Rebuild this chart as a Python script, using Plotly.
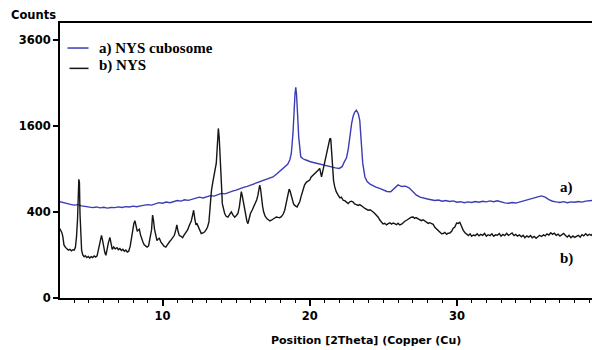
import numpy as np
import plotly.graph_objects as go

# Powder XRD scans (Cu K-alpha), intensity in counts vs. 2-theta (degrees)

# a) NYS cubosome
TWO_THETA_A = [
    3.0, 3.25, 3.5, 3.75, 4.0, 4.25, 4.5, 4.75, 5.0, 5.25,
    5.5, 5.75, 6.0, 6.25, 6.5, 6.75, 7.0, 7.25, 7.5, 7.75,
    8.0, 8.25, 8.5, 8.75, 9.0, 9.25, 9.5, 9.75, 10.0, 10.25,
    10.5, 10.75, 11.0, 11.25, 11.5, 11.75, 12.0, 12.25, 12.5, 12.75,
    13.0, 13.25, 13.5, 13.75, 14.0, 14.25, 14.5, 14.75, 15.0, 15.25,
    15.5, 15.75, 16.0, 16.25, 16.5, 16.75, 17.0, 17.25, 17.5, 17.75,
    18.0, 18.25, 18.5, 18.65, 18.75, 18.86, 18.93, 19.0, 19.05, 19.1,
    19.16, 19.25, 19.39, 19.54, 19.7, 19.85, 20.0, 20.25, 20.5, 20.75,
    21.0, 21.25, 21.5, 21.75, 22.0, 22.2, 22.35, 22.5, 22.62, 22.72,
    22.85, 22.95, 23.05, 23.17, 23.3, 23.4, 23.5, 23.6, 23.75, 23.9,
    24.1, 24.3, 24.5, 24.75, 25.0, 25.25, 25.5, 25.75, 26.0, 26.25,
    26.5, 26.75, 27.0, 27.25, 27.5, 27.75, 28.0, 28.25, 28.5, 28.75,
    29.0, 29.25, 29.5, 29.75, 30.0, 30.25, 30.5, 30.75, 31.0, 31.25,
    31.5, 31.75, 32.0, 32.25, 32.5, 32.75, 33.0, 33.25, 33.5, 33.75,
    34.0, 34.25, 34.5, 34.75, 35.0, 35.25, 35.5, 35.75, 36.0, 36.25,
    36.5, 36.75, 37.0, 37.25, 37.5, 37.75, 38.0, 38.25, 38.5, 38.75,
    39.0, 39.25,
]
COUNTS_A = [
    500, 488, 480, 472, 465, 470, 458, 452, 446, 440,
    447, 438, 444, 436, 442, 440, 448, 441, 450, 446,
    455, 449, 458, 462, 470, 465, 478, 490, 484, 496,
    490, 505, 512, 506, 520, 514, 528, 536, 548, 540,
    556, 565, 560, 578, 590, 585, 605, 616, 628, 648,
    660, 672, 688, 700, 722, 740, 758, 776, 790, 830,
    870, 915, 965, 1030, 1130, 1460, 1900, 2250, 2390, 2250,
    1900, 1400, 1075, 1045, 1030, 1015, 1005, 990, 975, 960,
    945, 932, 920, 912, 905, 930, 1000, 1060, 1200, 1420,
    1650, 1780, 1860, 1900, 1830, 1700, 1250, 980, 790, 730,
    700, 680, 662, 648, 630, 612, 608, 650, 690, 670,
    675, 655, 610, 570, 548, 535, 528, 520, 512, 518,
    505, 512, 502, 508, 495, 500, 490, 498, 492, 502,
    494, 505, 498, 508, 500, 510, 496, 488, 484, 492,
    486, 498, 506, 515, 528, 540, 552, 562, 548, 522,
    505, 498, 492, 500, 490, 498, 494, 502, 496, 506,
    510, 514,
]

# b) NYS
TWO_THETA_B = [
    3.0, 3.08, 3.15, 3.22, 3.3, 3.4, 3.5, 3.6, 3.7, 3.8,
    3.9, 4.0, 4.08, 4.15, 4.22, 4.27, 4.31, 4.35, 4.39, 4.44,
    4.5, 4.58, 4.67, 4.75, 4.85, 4.95, 5.05, 5.15, 5.25, 5.35,
    5.45, 5.55, 5.65, 5.75, 5.85, 5.92, 6.0, 6.08, 6.15, 6.22,
    6.32, 6.42, 6.5, 6.58, 6.68, 6.78, 6.9, 7.0, 7.1, 7.2,
    7.3, 7.4, 7.5, 7.6, 7.7, 7.8, 7.9, 7.97, 8.05, 8.12,
    8.2, 8.28, 8.36, 8.42, 8.5, 8.58, 8.66, 8.75, 8.85, 8.95,
    9.05, 9.15, 9.25, 9.32, 9.38, 9.45, 9.55, 9.62, 9.7, 9.78,
    9.88, 10.0, 10.1, 10.22, 10.35, 10.48, 10.58, 10.7, 10.8, 10.9,
    10.97, 11.05, 11.14, 11.25, 11.36, 11.47, 11.59, 11.7, 11.82, 11.95,
    12.04, 12.11, 12.2, 12.27, 12.33, 12.45, 12.55, 12.63, 12.75, 12.86,
    12.95, 13.05, 13.15, 13.24, 13.32, 13.42, 13.54, 13.65, 13.72, 13.79,
    13.85, 13.93, 14.0, 14.06, 14.14, 14.22, 14.32, 14.44, 14.55, 14.67,
    14.78, 14.9, 15.0, 15.12, 15.22, 15.3, 15.35, 15.42, 15.51, 15.58,
    15.65, 15.73, 15.8, 15.88, 15.97, 16.1, 16.2, 16.3, 16.4, 16.48,
    16.55, 16.6, 16.66, 16.71, 16.8, 16.87, 16.97, 17.1, 17.2, 17.3,
    17.39, 17.5, 17.6, 17.73, 17.85, 17.95, 18.07, 18.2, 18.3, 18.42,
    18.52, 18.6, 18.66, 18.75, 18.82, 18.9, 18.98, 19.06, 19.14, 19.22,
    19.32, 19.42, 19.54, 19.65, 19.78, 19.9, 20.0, 20.1, 20.22, 20.34,
    20.46, 20.57, 20.68, 20.75, 20.8, 20.88, 20.95, 21.05, 21.13, 21.22,
    21.31, 21.37, 21.43, 21.48, 21.54, 21.62, 21.7, 21.8, 21.93, 22.05,
    22.15, 22.27, 22.4, 22.5, 22.61, 22.72, 22.83, 22.95, 23.05, 23.17,
    23.29, 23.4, 23.52, 23.63, 23.75, 23.85, 23.97, 24.1, 24.2, 24.31,
    24.42, 24.53, 24.65, 24.75, 24.88, 24.98, 25.1, 25.22, 25.33, 25.45,
    25.56, 25.67, 25.8, 25.9, 26.0, 26.12, 26.24, 26.35, 26.46, 26.58,
    26.7, 26.8, 26.9, 27.03, 27.12, 27.22, 27.35, 27.48, 27.58, 27.7,
    27.82, 27.94, 28.05, 28.15, 28.27, 28.39, 28.5, 28.62, 28.73, 28.85,
    28.96, 29.07, 29.18, 29.3, 29.4, 29.52, 29.64, 29.75, 29.86, 29.98,
    30.1, 30.2, 30.3, 30.43, 30.55, 30.65, 30.78, 30.9, 31.0, 31.12,
    31.25, 31.38, 31.5, 31.62, 31.75, 31.88, 32.0, 32.12, 32.25, 32.38,
    32.5, 32.62, 32.75, 32.88, 33.0, 33.12, 33.25, 33.38, 33.5, 33.62,
    33.75, 33.88, 34.0, 34.12, 34.25, 34.38, 34.5, 34.62, 34.75, 34.88,
    35.0, 35.12, 35.25, 35.38, 35.5, 35.62, 35.75, 35.88, 36.0, 36.12,
    36.25, 36.38, 36.5, 36.62, 36.75, 36.88, 37.0, 37.12, 37.25, 37.38,
    37.5, 37.62, 37.75, 37.88, 38.0, 38.12, 38.25, 38.38, 38.5, 38.62,
    38.75, 38.88, 39.0, 39.12, 39.25, 39.4,
]
COUNTS_B = [
    262, 247, 232, 205, 152, 138, 130, 124, 128, 120,
    126, 124, 140, 200, 330, 480, 760, 720, 380, 200,
    122, 100, 92, 96, 88, 93, 86, 92, 88, 95,
    90, 96, 125, 175, 212, 180, 138, 110, 98, 130,
    165, 198, 150, 128, 140, 130, 136, 126, 132, 122,
    128, 118, 124, 114, 118, 145, 200, 260, 300, 322,
    262, 240, 250, 255, 215, 188, 170, 152, 148, 140,
    146, 190, 250, 370, 330, 255, 200, 178, 188, 192,
    170, 152, 145, 140, 158, 172, 182, 198, 212, 250,
    288, 240, 210, 205, 196, 215, 236, 250, 286, 320,
    370, 415, 330, 288, 300, 268, 240, 224, 228, 236,
    250, 270, 312, 480, 620, 730, 834, 980, 1250, 1550,
    1380, 1060, 700, 480, 410, 384, 360, 352, 375, 400,
    372, 352, 365, 385, 450, 560, 610, 560, 478, 400,
    352, 318, 298, 340, 385, 420, 450, 475, 520, 570,
    640, 688, 640, 550, 450, 398, 360, 338, 330, 320,
    326, 335, 345, 354, 350, 348, 356, 380, 415, 490,
    570, 640, 620, 560, 515, 478, 462, 452, 446, 470,
    500, 560, 645, 690, 725, 738, 750, 790, 810, 830,
    858, 880, 905, 850, 790, 860, 925, 1040, 1150, 1230,
    1290, 1375, 1360, 1150, 880, 740, 665, 610, 570, 540,
    548, 515, 508, 490, 480, 498, 505, 496, 478, 470,
    462, 470, 452, 446, 432, 425, 416, 420, 405, 399,
    385, 372, 352, 330, 310, 295, 300, 288, 298, 305,
    294, 303, 296, 290, 302, 288, 294, 310, 318, 326,
    336, 345, 352, 354, 342, 348, 336, 331, 322, 330,
    318, 311, 300, 306, 296, 292, 270, 258, 247, 235,
    222, 224, 232, 218, 226, 228, 240, 262, 272, 303,
    300, 309, 280, 247, 230, 218, 210, 222, 205, 214,
    210, 222, 208, 218, 212, 225, 206, 216, 210, 222,
    205, 215, 212, 224, 206, 218, 210, 226, 212, 219,
    228, 210, 218, 206, 214, 202, 212, 196, 208, 200,
    210, 196, 205, 192, 200, 212, 204, 215, 208, 222,
    214, 230, 218, 226, 212, 220, 206, 218, 224, 210,
    200, 212, 196, 208, 198, 205, 212, 200, 216, 208,
    222, 210, 219, 212, 224, 215,
]

Y_TICK_COUNTS = [0, 400, 1600, 3600]
X_TICKS = [10, 20, 30]

BLUE = "#3a3db3"
BLACK = "#151515"
SANS = "DejaVu Sans"
SERIF = "Liberation Serif"

# counts are shown on a square-root intensity scale
sqrt_a = np.sqrt(np.array(COUNTS_A, dtype=float))
sqrt_b = np.sqrt(np.array(COUNTS_B, dtype=float))

fig = go.Figure()
fig.add_trace(go.Scatter(x=TWO_THETA_A, y=sqrt_a, mode="lines",
                         line=dict(color=BLUE, width=1.4), name="a) NYS cubosome"))
fig.add_trace(go.Scatter(x=TWO_THETA_B, y=sqrt_b, mode="lines",
                         line=dict(color=BLACK, width=1.4), name="b) NYS"))

fig.update_layout(
    width=592, height=350,
    margin=dict(l=60, r=0, t=23, b=52),
    paper_bgcolor="white", plot_bgcolor="white",
    showlegend=False,
    font=dict(family=SANS, color="black"),
)

fig.update_xaxes(
    range=[3.03, 39.18],
    tickvals=X_TICKS, ticktext=[str(v) for v in X_TICKS],
    ticks="outside", ticklen=6, tickwidth=1.5, tickcolor="black",
    tickfont=dict(family=SANS, size=11.5, weight="bold", color="black"),
    minor=dict(dtick=1, ticks="outside", ticklen=3, tickwidth=1, tickcolor="black"),
    showline=True, linecolor="black", linewidth=2, mirror=True,
    showgrid=False, zeroline=False,
)
fig.update_yaxes(
    range=[0, 63.85],
    tickvals=[np.sqrt(v) for v in Y_TICK_COUNTS],
    ticktext=[str(v) for v in Y_TICK_COUNTS],
    ticks="outside", ticklen=5, tickwidth=1.5, tickcolor="black",
    tickfont=dict(family=SANS, size=11.5, weight="bold", color="black"),
    showline=True, linecolor="black", linewidth=2, mirror=False,
    showgrid=False, zeroline=False,
)

# legend key lines
fig.add_shape(type="line", xref="paper", yref="paper",
              x0=0.0141, x1=0.0536, y0=0.909, y1=0.909,
              line=dict(color=BLUE, width=1.5))
fig.add_shape(type="line", xref="paper", yref="paper",
              x0=0.0179, x1=0.0536, y0=0.835, y1=0.835,
              line=dict(color=BLACK, width=1.5))

annots = [
    dict(text="a) NYS cubosome", x=0.0687, y=0.908, xanchor="left",
         font=dict(family=SERIF, size=15, weight="bold", color="black")),
    dict(text="b) NYS", x=0.0687, y=0.846, xanchor="left",
         font=dict(family=SERIF, size=15, weight="bold", color="black")),
    dict(text="a)", x=0.953, y=0.4025, xanchor="center",
         font=dict(family=SERIF, size=15, weight="bold", color="black")),
    dict(text="b)", x=0.953, y=0.1444, xanchor="center",
         font=dict(family=SERIF, size=15, weight="bold", color="black")),
    dict(text="Counts", x=-0.0499, y=1.028, xanchor="center",
         font=dict(family=SANS, size=11.5, weight="bold", color="black")),
    dict(text="Position [2Theta] (Copper (Cu)", x=0.5748, y=-0.155, xanchor="center",
         font=dict(family=SANS, size=11, weight="bold", color="black")),
]
for a in annots:
    fig.add_annotation(xref="paper", yref="paper", showarrow=False,
                       yanchor="middle", **a)

fig.write_html("out.html")
